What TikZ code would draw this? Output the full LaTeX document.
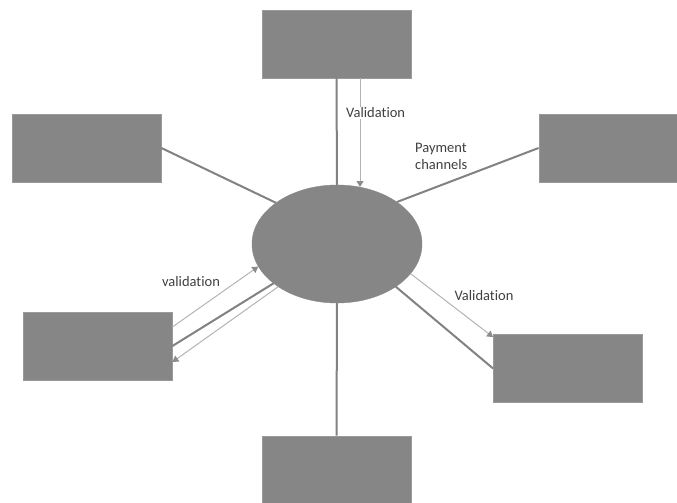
\documentclass[tikz,border=0pt]{standalone}
\usepackage{fontspec}
\setmainfont{Carlito}[Ligatures=NoCommon]
\usetikzlibrary{shapes.geometric,arrows.meta,calc}
\definecolor{boxfill}{HTML}{868686}
\definecolor{boxline}{HTML}{9A9A9A}
\definecolor{thickline}{HTML}{828282}
\definecolor{thinline}{HTML}{B4B4B4}
\definecolor{tipcol}{HTML}{8C8C8C}
\definecolor{txt}{HTML}{404040}
\begin{document}
\begin{tikzpicture}[x=1pt,y=-1pt,
  box/.style={draw=boxline,fill=boxfill,line width=0.8pt,minimum width=149pt,minimum height=68pt,inner sep=0pt},
  hub/.style={ellipse,draw=boxfill,fill=boxfill,minimum width=170pt,minimum height=118pt,inner sep=0pt},
  link/.style={draw=thickline,line width=2pt},
  flow/.style={draw=thinline,line width=1pt,-{Triangle[width=7pt,length=6pt,color=tipcol]}},
  lbl/.style={text=txt,font=\fontsize{14.5}{17}\selectfont,inner sep=1pt}]
\useasboundingbox (0,0) rectangle (677,503);
\clip (0,0) rectangle (677,503);
\fill[white] (0,0) rectangle (677,503);
\node[box] (t) at (336.5,44) {};
\node[box] (lt) at (86.5,148) {};
\node[box] (rt) at (613.5,148) {};
\node[box] (lb) at (97.5,346) {};
\node[box] (rb) at (568,368.5) {};
\node[box] (b) at (336.5,470) {};
\node[hub] (c) at (337,244) {};
% thick connectors
\draw[link] (t.south) -- (c.north);
\draw[link] (c.south) -- (b.north);
\draw[link] (lt.east) -- (c.146);
\draw[link] (rt.west) -- (c.35);
\draw[link] (lb.east) -- (c);
\draw[link] (c.-36) -- (rb.west);
% thin arrows
\draw[flow] (c.68 |- t.south) -- (c.68);
\draw[flow] ($(lb.east)+(0,-19)$) -- (c.196);
\draw[flow] (c.216) -- ($(lb.east)+(0,16)$);
\draw[flow] (c.-22) -- ($(rb.north west)+(0,3)$);
% labels
\node[lbl,fill=white,anchor=west] (l1) at (345,113) {Validation};
\node[lbl,align=left,anchor=west] (l2) at (414,156) {Payment\\channels};
\node[lbl] (l3) at (191,282) {validation};
\node[lbl] (l4) at (484,296) {Validation};
\end{tikzpicture}
\end{document}
